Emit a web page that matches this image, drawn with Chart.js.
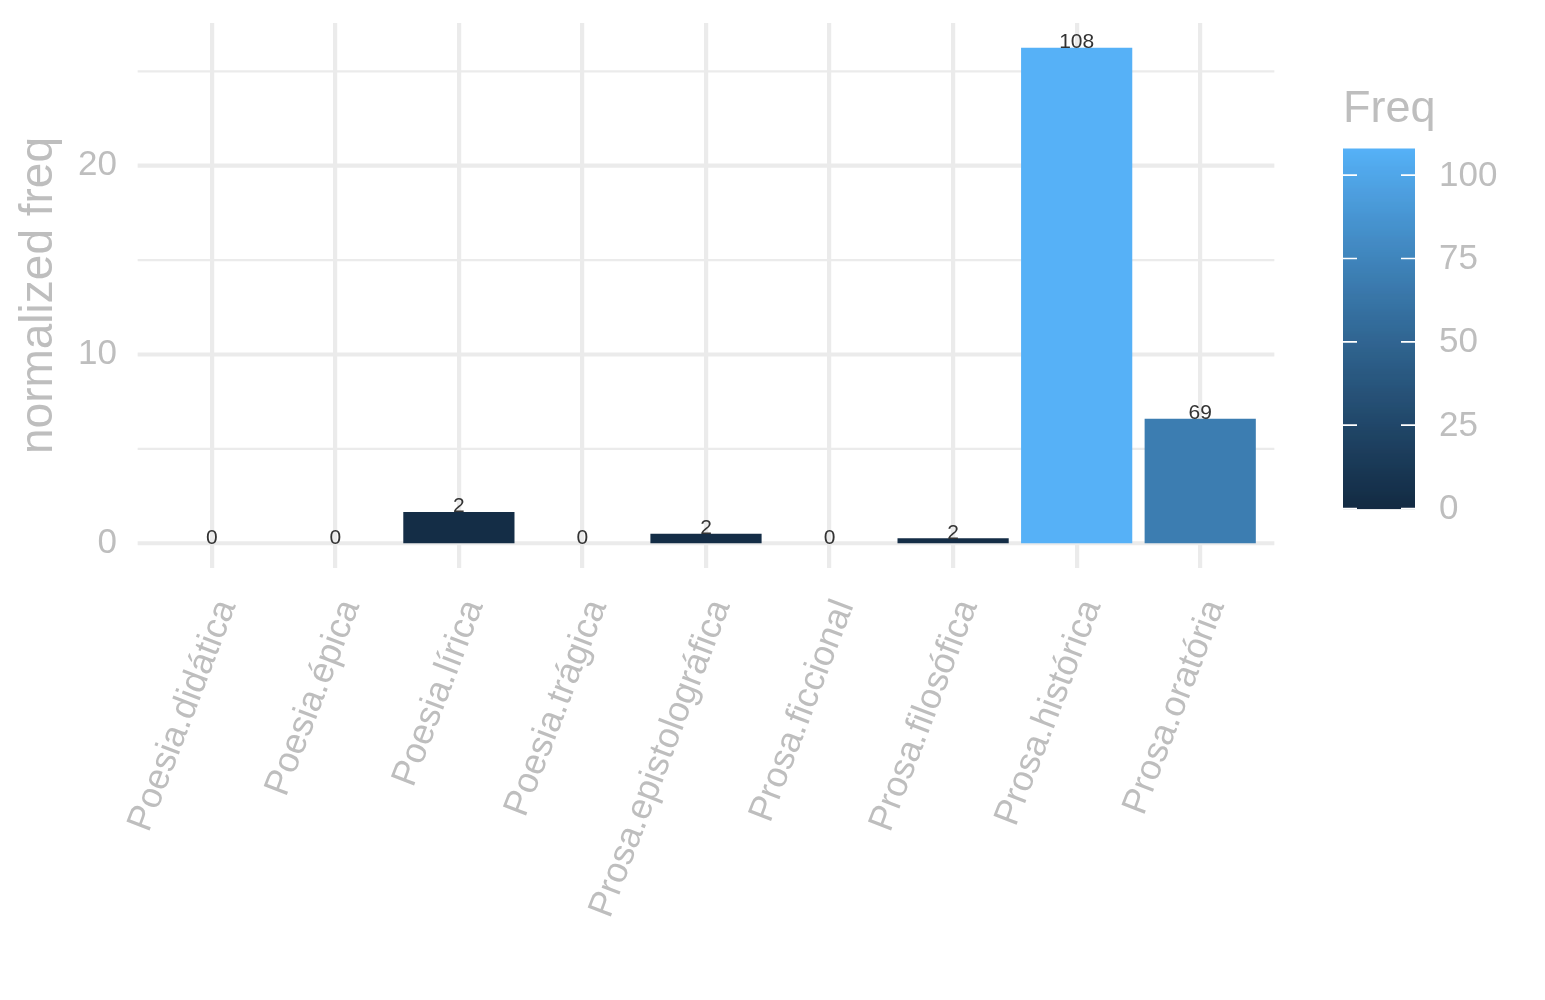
<!DOCTYPE html>
<html><head><meta charset="utf-8">
<script src="https://cdn.jsdelivr.net/npm/chart.js@4.4.1/dist/chart.umd.min.js"></script>
<style>html,body{margin:0;padding:0;background:#fff}#wrap{width:1545px;height:1000px;position:relative}</style>
</head><body><div id="wrap"><canvas id="c"></canvas></div>
<script>
const categories = ['Poesia.didática','Poesia.épica','Poesia.lírica','Poesia.trágica','Prosa.epistolográfica','Prosa.ficcional','Prosa.filosófica','Prosa.histórica','Prosa.oratória'];
const normFreq = [0, 0, 1.66, 0, 0.50, 0, 0.27, 26.25, 6.60];
const freq = [0, 0, 2, 0, 2, 0, 2, 108, 69];
const yMajorTicks = [0, 10, 20];
const yMinorTicks = [5, 15, 25];
const legendTicks = [0, 25, 50, 75, 100];
const yRange = [-1.31, 27.56];
const freqLimits = [0, 108];

const FONT = "'Liberation Sans', Arial, Helvetica, sans-serif";
const GREY = '#BEBEBE';
const GRID = '#EBEBEB';

// ggplot2 default continuous gradient (#132B43 -> #56B1F7) interpolated in Lab
function hex2rgb(h){return [1,3,5].map(i=>parseInt(h.substr(i,2),16)/255);}
function lin(c){return c<=0.04045?c/12.92:Math.pow((c+0.055)/1.055,2.4);}
function unlin(c){return c<=0.0031308?12.92*c:1.055*Math.pow(c,1/2.4)-0.055;}
const WN=[0.95047,1,1.08883];
function rgb2lab(rgb){const [r,g,b]=rgb.map(lin);
  const X=(0.4124564*r+0.3575761*g+0.1804375*b)/WN[0];
  const Y=(0.2126729*r+0.7151522*g+0.0721750*b)/WN[1];
  const Z=(0.0193339*r+0.1191920*g+0.9503041*b)/WN[2];
  const f=t=>t>0.008856?Math.cbrt(t):7.787*t+16/116;
  const fx=f(X),fy=f(Y),fz=f(Z);
  return [116*fy-16,500*(fx-fy),200*(fy-fz)];}
function lab2rgb(lab){const [L,a,b]=lab;const fy=(L+16)/116,fx=fy+a/500,fz=fy-b/200;
  const fi=t=>t*t*t>0.008856?t*t*t:(t-16/116)/7.787;
  const X=fi(fx)*WN[0],Y=fi(fy)*WN[1],Z=fi(fz)*WN[2];
  const r=3.2404542*X-1.5371385*Y-0.4985314*Z;
  const g=-0.9692660*X+1.8760108*Y+0.0415560*Z;
  const bb=0.0556434*X-0.2040259*Y+1.0572252*Z;
  return [r,g,bb].map(c=>Math.round(Math.min(1,Math.max(0,unlin(c)))*255));}
const LOW=rgb2lab(hex2rgb('#132B43')), HIGH=rgb2lab(hex2rgb('#56B1F7'));
function freqColor(v){const t=(v-freqLimits[0])/(freqLimits[1]-freqLimits[0]);
  const lab=LOW.map((l,i)=>l+(HIGH[i]-l)*t);const c=lab2rgb(lab);return `rgb(${c[0]},${c[1]},${c[2]})`;}

const hgridPlugin = {
  id:'hgrid',
  beforeDatasetsDraw(chart){
    const {ctx, chartArea:a, scales:{y}} = chart;
    const ext = a.width/categories.length*0.1;
    ctx.save(); ctx.strokeStyle=GRID;
    const draw=(v,w)=>{const py=y.getPixelForValue(v);ctx.lineWidth=w;ctx.beginPath();ctx.moveTo(a.left-ext,py);ctx.lineTo(a.right+ext,py);ctx.stroke();};
    yMinorTicks.forEach(v=>draw(v,2.3));
    yMajorTicks.forEach(v=>draw(v,4.2));
    ctx.restore();
  }
};
const valueLabelPlugin = {
  id:'vlabels',
  afterDatasetsDraw(chart){
    const {ctx} = chart; const meta = chart.getDatasetMeta(0);
    ctx.save(); ctx.fillStyle='#333333'; ctx.font=`21px ${FONT}`; ctx.textAlign='center'; ctx.textBaseline='alphabetic';
    meta.data.forEach((bar,i)=>{ctx.fillText(String(freq[i]), bar.x, bar.y+0.5);});
    ctx.restore();
  }
};
const legendPlugin = {
  id:'cbar',
  afterDraw(chart){
    const {ctx} = chart;
    const x0=1343, x1=1415, yTop=148.5, yBot=508.5;
    const yv=v=>yBot-(v-freqLimits[0])/(freqLimits[1]-freqLimits[0])*(yBot-yTop);
    ctx.save();
    ctx.fillStyle=GREY; ctx.font=`45px ${FONT}`; ctx.textAlign='left'; ctx.textBaseline='alphabetic';
    ctx.fillText('Freq', 1343, 122);
    const n=360;
    for(let k=0;k<n;k++){const v0=freqLimits[0]+(freqLimits[1]-freqLimits[0])*k/n;const v1=freqLimits[0]+(freqLimits[1]-freqLimits[0])*(k+1)/n;
      ctx.fillStyle=freqColor((v0+v1)/2);const ya=yv(v1),yb=yv(v0);ctx.fillRect(x0,ya,x1-x0,yb-ya+0.6);}
    ctx.strokeStyle='#FFFFFF'; ctx.lineWidth=1.6;
    legendTicks.forEach(v=>{const py=yv(v);ctx.beginPath();ctx.moveTo(x0,py);ctx.lineTo(x0+14,py);ctx.moveTo(x1-14,py);ctx.lineTo(x1,py);ctx.stroke();});
    ctx.fillStyle=GREY; ctx.font=`35px ${FONT}`; ctx.textBaseline='middle';
    legendTicks.forEach(v=>ctx.fillText(String(v),1439,yv(v)+1));
    ctx.restore();
  }
};

new Chart(document.getElementById('c'), {
  type:'bar',
  data:{labels:categories, datasets:[{data:normFreq, backgroundColor:freq.map(freqColor), borderWidth:0, barPercentage:0.9, categoryPercentage:1.0}]},
  options:{
    responsive:true, maintainAspectRatio:false, animation:false,
    layout:{padding:{top:23,right:283,left:0,bottom:0}},
    plugins:{legend:{display:false}, tooltip:{enabled:false}},
    scales:{
      x:{
        offset:true,
        grid:{offset:false, color:GRID, lineWidth:4.2, drawTicks:false},
        border:{display:false},
        ticks:{autoSkip:false, minRotation:69, maxRotation:69, padding:26, labelOffset:15, color:GREY, font:{family:FONT, size:36}},
        afterFit(s){s.height=432; s.paddingLeft=0; s.paddingRight=0;}
      },
      y:{
        min:yRange[0], max:yRange[1],
        grid:{display:false, drawTicks:false},
        border:{display:false},
        afterBuildTicks(s){s.ticks=yMajorTicks.map(v=>({value:v}));},
        ticks:{padding:33, color:GREY, font:{family:FONT, size:35}},
        title:{display:true, text:'normalized freq', color:GREY, font:{family:FONT, size:46}, padding:{top:12,bottom:0}},
        afterFit(s){s.width=150; s.paddingTop=0; s.paddingBottom=0;}
      }
    }
  },
  plugins:[hgridPlugin, valueLabelPlugin, legendPlugin]
});
</script></body></html>
